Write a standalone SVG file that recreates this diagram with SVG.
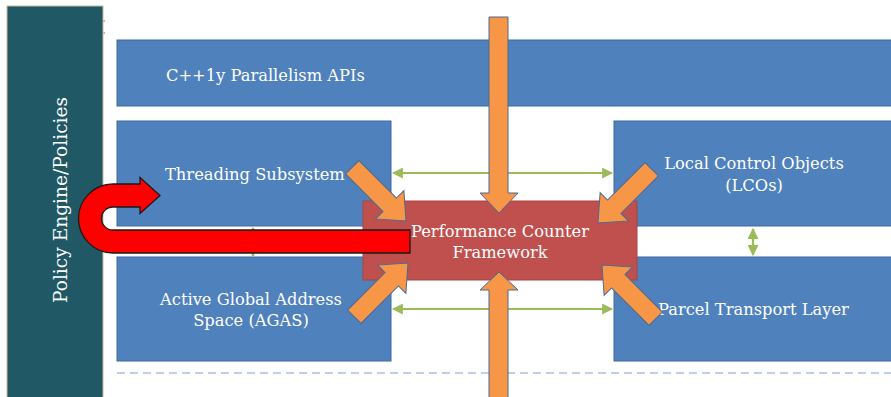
<svg xmlns="http://www.w3.org/2000/svg" width="891" height="397" viewBox="0 0 891 397">
  <defs>
    <linearGradient id="topRule" x1="0" y1="0" x2="1" y2="0">
      <stop offset="0" stop-color="#c2d3ea"/>
      <stop offset="0.5" stop-color="#7fa3d3"/>
      <stop offset="1" stop-color="#cddcef"/>
    </linearGradient>
    <marker id="gArrow" viewBox="0 0 10 10" refX="9" refY="5" markerWidth="5" markerHeight="5" orient="auto-start-reverse">
      <path d="M0,0 L10,5 L0,10 Z" fill="#9bbb59"/>
    </marker>
    <!-- block arrow pointing along +x with its tip at the origin -->
    <path id="diagArrow" d="M0,0 L-23,-20 L-23,-9.5 L-76,-9.5 L-76,9.5 L-23,9.5 L-23,20 Z"/>
  </defs>
  <style>
    .box { fill: #4f81bd; stroke: #41699b; stroke-width: 1; }
    .lbl { font-family: "DejaVu Serif", "Liberation Serif", serif; font-size: 16.3px; fill: #ffffff; }
    .mid { text-anchor: middle; }
    .link { stroke: #9bbb59; stroke-width: 2.2; fill: none; marker-start: url(#gArrow); marker-end: url(#gArrow); }
    .orange { fill: #f79646; stroke: #4a6a94; stroke-width: 1; }
  </style>

  <rect width="891" height="397" fill="#ffffff"/>

  <!-- page rules -->
  <line x1="117" y1="26" x2="891" y2="26" stroke="url(#topRule)" stroke-width="1.5"/>
  <line x1="117" y1="373" x2="891" y2="373" stroke="#a9c1e2" stroke-width="1.3" stroke-dasharray="8,5"/>
  <line x1="101" y1="21" x2="105" y2="21" stroke="#555" stroke-width="0.8"/>
  <line x1="101" y1="33" x2="105" y2="33" stroke="#555" stroke-width="0.8"/>

  <g id="policy-engine">
    <rect x="7" y="6" width="96" height="395" fill="#215865" stroke="#c4bd97" stroke-width="1"/>
    <text class="lbl mid" transform="translate(67,200) rotate(-90)" style="font-size:18.6px">Policy Engine/Policies</text>
  </g>

  <g id="parallelism-apis">
    <rect class="box" x="117" y="40" width="780" height="66"/>
    <text class="lbl" x="166" y="81">C++1y Parallelism APIs</text>
  </g>

  <g id="threading">
    <rect class="box" x="117" y="121" width="274" height="105"/>
    <text class="lbl" x="165" y="180">Threading Subsystem</text>
  </g>

  <g id="agas">
    <rect class="box" x="117" y="257" width="274" height="104"/>
    <text class="lbl mid" x="251" y="305">Active Global Address</text>
    <text class="lbl mid" x="251" y="326">Space (AGAS)</text>
  </g>

  <g id="lcos">
    <rect class="box" x="614" y="121" width="283" height="105"/>
    <text class="lbl mid" x="754" y="169">Local Control Objects</text>
    <text class="lbl mid" x="754" y="191">(LCOs)</text>
  </g>

  <g id="parcel">
    <rect class="box" x="614" y="257" width="283" height="104"/>
    <text class="lbl" x="658" y="315">Parcel Transport Layer</text>
  </g>

  <g id="connectors">
    <line class="link" x1="393" y1="173" x2="612" y2="173"/>
    <line class="link" x1="393" y1="309" x2="612" y2="309"/>
    <line class="link" x1="753" y1="229" x2="753" y2="255"/>
    <line class="link" x1="253" y1="228" x2="253" y2="256"/>
  </g>

  <g id="performance-counters">
    <rect x="363" y="201" width="274" height="79" fill="#c0504d" stroke="#a94542" stroke-width="1"/>
    <text class="lbl mid" x="500" y="237">Performance Counter</text>
    <text class="lbl mid" x="500" y="258">Framework</text>
  </g>

  <g id="feeds">
    <path class="orange" d="M489,17 L508,17 L508,193 L518,193 L499,213 L480,193 L489,193 Z"/>
    <path class="orange" d="M489,400 L489,290 L480,290 L499,272 L518,290 L508,290 L508,400 Z"/>
    <use href="#diagArrow" class="orange" transform="translate(406,221) rotate(45)"/>
    <use href="#diagArrow" class="orange" transform="translate(598,223) rotate(135)"/>
    <use href="#diagArrow" class="orange" transform="translate(408,263) rotate(-45)"/>
    <use href="#diagArrow" class="orange" transform="translate(602,265) rotate(-135)"/>
  </g>

  <g id="policy-feedback">
    <path d="M410,230 L113,230 A11.5,11.5 0 0 1 113,207 L140,207 L140,213.5 L160,195.5 L140,177.5 L140,184 L113,184 A34.5,34.5 0 0 0 113,253 L410,253 Z" fill="#ff0000" stroke="#1a1a1a" stroke-width="1.3"/>
  </g>
</svg>
